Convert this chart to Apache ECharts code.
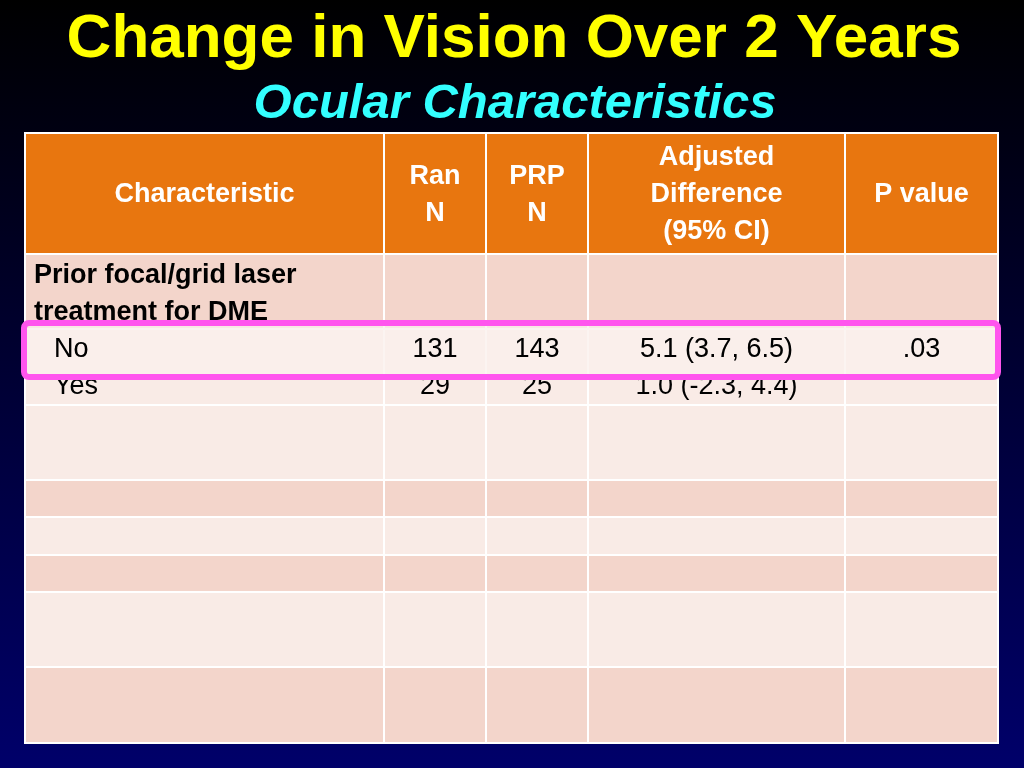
<!DOCTYPE html>
<html><head><meta charset="utf-8">
<script src="https://cdn.jsdelivr.net/npm/echarts@6/dist/echarts.min.js"></script>
<style>html,body{margin:0;padding:0;}#c{width:1024px;height:768px;}</style>
</head><body><div id="c"></div>
<script>
const title = "Change in Vision Over 2 Years";
const subtitle = "Ocular Characteristics";
const headers = ["Characteristic", "Ran\nN", "PRP\nN", "Adjusted\nDifference\n(95% CI)", "P value"];
const groupLabel = "Prior focal/grid laser\ntreatment for DME";
const categories = ["No", "Yes"];
const ranN = [131, 29];
const prpN = [143, 25];
const adjDiff = ["5.1 (3.7, 6.5)", "1.0 (-2.3, 4.4)"];
const pValues = [".03", ""];

const colX = [25, 384, 486, 588, 845, 998];
const rowY = [133, 254, 329, 405, 480, 517, 555, 592, 667, 743];
const rowFill = ["#e8760f", "#f3d5cb", "#f9ebe6", "#f9ebe6", "#f3d5cb", "#f9ebe6", "#f3d5cb", "#f9ebe6", "#f3d5cb"];

const g = [];
g.push({type:'rect', shape:{x:0,y:0,width:1024,height:768}, style:{fill:new echarts.graphic.LinearGradient(0,0,0,1,[{offset:0,color:'#000000'},{offset:1,color:'#00006a'}])}});
g.push({type:'text', x:514, y:40, style:{text:title, fill:'#ffff00', font:'bold 62px Arial, "Liberation Sans"', align:'center', verticalAlign:'middle'}});
g.push({type:'text', x:515, y:104, style:{text:subtitle, fill:'#33ffff', font:'italic bold 49px Arial, "Liberation Sans"', align:'center', verticalAlign:'middle'}});
for (let r=0;r<rowY.length-1;r++){
  for (let c=0;c<colX.length-1;c++){
    g.push({type:'rect', shape:{x:colX[c],y:rowY[r],width:colX[c+1]-colX[c],height:rowY[r+1]-rowY[r]}, style:{fill:rowFill[r], stroke:'#ffffff', lineWidth:2}});
  }
}
headers.forEach((h,c)=>{
  g.push({type:'text', x:(colX[c]+colX[c+1])/2, y:195, style:{text:h, fill:'#ffffff', font:'bold 27px Arial, "Liberation Sans"', align:'center', verticalAlign:'middle', lineHeight:37}});
});
g.push({type:'text', x:34, y:294, style:{text:groupLabel, fill:'#000', font:'bold 27px Arial, "Liberation Sans"', align:'left', verticalAlign:'middle', lineHeight:37}});
categories.forEach((cat,i)=>{
  const y = 350 + i*37;
  const vals = [ranN[i], prpN[i], adjDiff[i], pValues[i]];
  g.push({type:'text', x:54, y:y, style:{text:cat, fill:'#000', font:'27px Arial, "Liberation Sans"', align:'left', verticalAlign:'middle'}});
  vals.forEach((v,k)=>{
    g.push({type:'text', x:(colX[k+1]+colX[k+2])/2, y:y, style:{text:String(v), fill:'#000', font:'27px Arial, "Liberation Sans"', align:'center', verticalAlign:'middle'}});
  });
});
g.push({type:'rect', shape:{x:24,y:323,width:974,height:54,r:5}, style:{fill:'rgba(250,240,236,0.75)', stroke:'#ff55ee', lineWidth:6}});
g.push({type:'text', x:54, y:350, style:{text:categories[0], fill:'#000', font:'27px Arial, "Liberation Sans"', align:'left', verticalAlign:'middle'}});
[ranN[0], prpN[0], adjDiff[0], pValues[0]].forEach((v,k)=>{
  g.push({type:'text', x:(colX[k+1]+colX[k+2])/2, y:350, style:{text:String(v), fill:'#000', font:'27px Arial, "Liberation Sans"', align:'center', verticalAlign:'middle'}});
});
const chart = echarts.init(document.getElementById('c'));
chart.setOption({animation:false, graphic:{elements:g}});
</script></body></html>
